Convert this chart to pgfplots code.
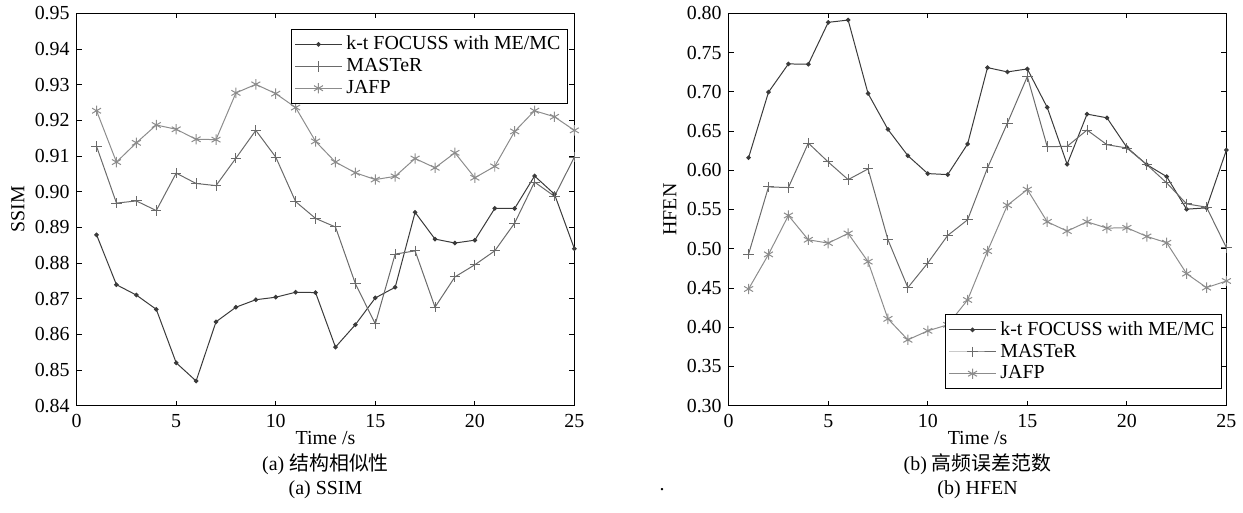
\documentclass[border=0pt]{standalone}
\usepackage{pgfplots}
\pgfplotsset{compat=1.18}
\usepackage{fontspec}
\setmainfont{Liberation Serif}
\newfontfamily\cjk{Noto Sans CJK SC}
\definecolor{ckt}{HTML}{3A3A3A}
\definecolor{cms}{HTML}{6A6A6A}
\definecolor{cja}{HTML}{8C8C8C}
\begin{document}
\fontsize{10}{12}\selectfont
\begin{tikzpicture}
\pgfplotsset{
  every axis/.append style={
    font=\fontsize{10}{12}\selectfont,
    scale only axis, width=250pt, height=197pt,
    xmin=0, xmax=25, xtick={0,5,...,25},
    tick align=inside, major tick length=2.5pt,
    /pgf/number format/assume math mode=true,
    axis line style={black, line width=0.5pt},
    tick style={black, line width=0.4pt},
    yticklabel style={/pgf/number format/.cd, fixed, fixed zerofill, precision=2},
    xticklabel style={yshift=-1pt},
    xlabel={Time /s},
    every axis x label/.style={at={(axis description cs:0.5,-0.083)}, anchor=center},
    every axis y label/.style={at={(axis description cs:-0.118,0.5)}, rotate=90, anchor=center},
    legend cell align=left,
    legend style={draw=black, line width=0.5pt, font=\fontsize{10}{12}\selectfont,
      inner sep=1.5pt, outer sep=0pt, row sep=-1.2pt, fill=white},
    legend image code/.code={\draw[mark repeat=2,mark phase=2] plot coordinates {(0pt,0pt) (11.75pt,0pt) (23.5pt,0pt)};},
  },
  kt/.style={color=ckt, line width=0.5pt, mark=*, mark size=0.9pt},
  ms/.style={color=cms, line width=0.5pt, mark=+, mark size=2.6pt, mark options={line width=0.5pt}},
  ja/.style={color=cja, line width=0.5pt, mark=asterisk, mark size=2.6pt, mark options={line width=0.5pt}},
}
\path (-38.5pt,-53.5pt) rectangle (583pt,202.5pt);
\begin{axis}[name=ax1, at={(0pt,0pt)}, anchor=south west,
  ymin=0.84, ymax=0.95, ytick={0.84,0.85,...,0.951},
  ylabel={SSIM},
  legend style={at={(axis description cs:0.986,0.96)}, anchor=north east}]
\addplot[kt] coordinates {(1,0.8879)(2,0.8739)(3,0.8710)(4,0.8670)(5,0.8520)(6,0.8469)(7,0.8635)(8,0.8676)(9,0.8697)(10,0.8704)(11,0.8718)(12,0.8717)(13,0.8564)(14,0.8627)(15,0.8702)(16,0.8732)(17,0.8942)(18,0.8867)(19,0.8856)(20,0.8864)(21,0.8953)(22,0.8953)(23,0.9044)(24,0.8993)(25,0.8840)};
\addlegendentry{k-t FOCUSS with ME/MC}
\addplot[ms] coordinates {(1,0.9127)(2,0.8968)(3,0.8974)(4,0.8947)(5,0.9052)(6,0.9023)(7,0.9017)(8,0.9094)(9,0.9172)(10,0.9097)(11,0.8972)(12,0.8925)(13,0.8901)(14,0.8742)(15,0.8629)(16,0.8825)(17,0.8834)(18,0.8676)(19,0.8761)(20,0.8795)(21,0.8834)(22,0.8912)(23,0.9027)(24,0.8987)(25,0.9097)};
\addlegendentry{MASTeR}
\addplot[ja] coordinates {(1,0.9227)(2,0.9083)(3,0.9137)(4,0.9187)(5,0.9175)(6,0.9147)(7,0.9146)(8,0.9277)(9,0.9301)(10,0.9275)(11,0.9236)(12,0.9141)(13,0.9083)(14,0.9053)(15,0.9034)(16,0.9043)(17,0.9093)(18,0.9067)(19,0.9109)(20,0.9039)(21,0.9071)(22,0.9169)(23,0.9227)(24,0.9210)(25,0.9172)};
\addlegendentry{JAFP}
\end{axis}
\begin{axis}[name=ax2, at={(327.5pt,0pt)}, anchor=south west,
  ymin=0.30, ymax=0.80, ytick={0.30,0.35,...,0.801},
  ylabel={HFEN},
  legend style={at={(axis description cs:0.99,0.043)}, anchor=south east}]
\addplot[kt] coordinates {(1,0.6161)(2,0.6996)(3,0.7356)(4,0.7352)(5,0.7886)(6,0.7915)(7,0.6979)(8,0.6521)(9,0.6186)(10,0.5958)(11,0.5945)(12,0.6335)(13,0.7309)(14,0.7254)(15,0.7292)(16,0.6801)(17,0.6076)(18,0.6716)(19,0.6669)(20,0.6292)(21,0.6072)(22,0.5919)(23,0.5504)(24,0.5521)(25,0.6258)};
\addlegendentry{k-t FOCUSS with ME/MC}
\addplot[ms] coordinates {(1,0.4932)(2,0.5788)(3,0.5780)(4,0.6347)(5,0.6106)(6,0.5881)(7,0.6017)(8,0.5114)(9,0.4504)(10,0.4818)(11,0.5169)(12,0.5369)(13,0.6030)(14,0.6602)(15,0.7195)(16,0.6301)(17,0.6305)(18,0.6513)(19,0.6326)(20,0.6284)(21,0.6072)(22,0.5839)(23,0.5572)(24,0.5530)(25,0.5013)};
\addlegendentry{MASTeR}
\addplot[ja] coordinates {(1,0.4487)(2,0.4928)(3,0.5424)(4,0.5114)(5,0.5072)(6,0.5195)(7,0.4835)(8,0.4106)(9,0.3839)(10,0.3953)(11,0.4030)(12,0.4347)(13,0.4970)(14,0.5555)(15,0.5754)(16,0.5343)(17,0.5225)(18,0.5343)(19,0.5263)(20,0.5267)(21,0.5157)(22,0.5076)(23,0.4682)(24,0.4504)(25,0.4589)};
\addlegendentry{JAFP}
\end{axis}
\node at ([yshift=-29.5pt]ax1.south) {(a) {\cjk 结构相似性}};
\node at ([yshift=-42pt]ax1.south) {(a) SSIM};
\node at ([yshift=-29.5pt]ax2.south) {(b) {\cjk 高频误差范数}};
\node at ([yshift=-42pt]ax2.south) {(b) HFEN};
\node at ([yshift=-42pt,xshift=-33.5pt]ax2.south west) {.};
\end{tikzpicture}
\end{document}
